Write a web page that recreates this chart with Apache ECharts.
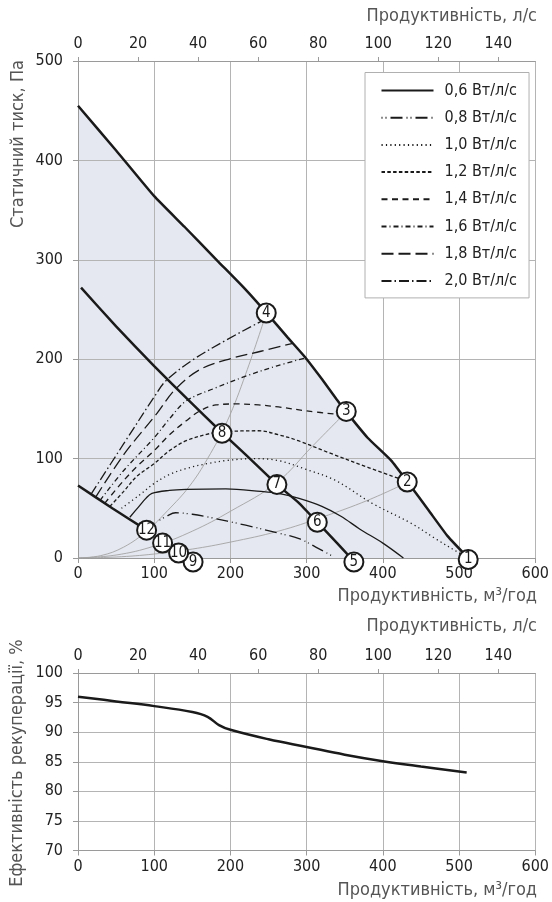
<!DOCTYPE html>
<html><head><meta charset="utf-8">
<script src="https://cdn.jsdelivr.net/npm/echarts@6/dist/echarts.min.js"></script>
<style>html,body{margin:0;padding:0;background:#fff}#c{width:552px;height:902px}</style>
</head><body><div id="c"></div>
<script>
// ---------- data ----------
const flowTicksM3 = [0, 100, 200, 300, 400, 500, 600];
const flowTicksLs = [0, 20, 40, 60, 80, 100, 120, 140];
const pressureTicks = [0, 100, 200, 300, 400, 500];
const effTicks = [70, 75, 80, 85, 90, 95, 100];

// outer (max) characteristic, bounds the shaded area
const outerCurve = [[0,455],[50,410],[100,364],[140,333],[183,299],[220,270],[248,246],[275,222],[298,202],[320,180],[339,160],[352,147],[380,121],[411,98],[432,77],[460,48],[485,22],[512,0]];
// middle thick characteristic
const middleCurve = [[4,272],[50,233],[100,193],[142,161],[189,126],[220,104],[261,74],[289,56],[314,36],[340,15],[358,0]];
// lower thick characteristic
const lowerCurve = [[0,73],[45,50],[88,29]];

// system (duct) curves, thin grey
const systemA = [[0,0],[30,2.4],[60,11],[90,27],[118,48],[146,72],[170,100],[196,138],[220,185],[247,246]];
const systemB = [[0,0],[50,3],[100,12],[150,27],[200,47],[261,76],[307,112],[352,147]];
const systemC = [[0,0],[50,1],[100,4],[150,9],[200,16],[263,27],[320,41],[380,58],[432,76]];

// SFP curves
const sfpNames = ['0,6 Вт/л/с','0,8 Вт/л/с','1,0 Вт/л/с','1,2 Вт/л/с','1,4 Вт/л/с','1,6 Вт/л/с','1,8 Вт/л/с','2,0 Вт/л/с'];
const sfp06 = [[68,41],[79,51],[89,60],[97,65],[120,68],[142,69],[194,69.5],[240,67],[263,65],[290,60],[320,52],[345,42],[370,29],[400,15],[427,0]];
const sfp08 = [[107,38],[116,42],[128,45.5],[150,44],[172,41],[220,33],[263,25],[290,19.5],[312,11],[336,1]];
const sfp10 = [[57,50],[80,63],[100,75],[120,84],[142,90],[170,95],[194,98],[230,100],[263,98],[300,89],[338,78],[386,55],[437,35],[470,19],[498,6],[512,0]];
const sfp12 = [[42,52],[60,67],[77,82],[100,95],[120,108],[142,118],[172,125],[189,127],[237,128],[263,124],[289,118],[329,106],[381,91],[432,77]];
const sfp14 = [[35,55],[60,78],[80,94],[100,108],[120,124],[142,138],[160,148],[181,154],[210,155],[237,154],[263,152],[300,148],[346,144]];
const sfp16 = [[29,58],[60,88],[100,121],[120,140],[142,158],[180,171],[224,184],[260,193],[297,201]];
const sfp18 = [[23,61],[60,104],[102,144],[128,170],[161,190],[202,201],[240,208],[282,216]];
const sfp20 = [[17,64],[60,115],[100,162],[115,178],[150,199],[194,219],[235,236],[243,239]];

// numbered operating points
const pointLabels = ['1','2','3','4','5','6','7','8','9','10','11','12'];
const pointFlow   = [512,432,352,247,362,314,261,189,151,132,111,90];
const pointPress  = [-1.5,76.5,147.5,246.5,-4,36,74,125.5,-4,5,15,28];

// heat recovery efficiency
const effCurve = [[0,96],[50,95.2],[100,94.4],[150,93.4],[170,92.6],[185,91.2],[200,90.4],[250,88.8],[300,87.5],[350,86.2],[400,85.1],[450,84.2],[510,83.2]];

// ---------- styling ----------
const FONT = "'Liberation Sans Narrow','DejaVu Sans Condensed','Roboto',sans-serif";
const GRID = '#b4b4b4', AX = '#9a9a9a', TXT = '#222', NAME = '#555', INK = '#1a1a1a';
const dashes = ['solid',[1,3,1,4,12,4],[1.2,3.2],[3.5,2.3],[6,4.5],[5,3,1,3],[12,5],[10,3,1.5,3]];
const sfpData = [sfp06,sfp08,sfp10,sfp12,sfp14,sfp16,sfp18,sfp20];

function xM3(grid){
  return {type:'value', gridIndex:grid, position:'bottom', min:0, max:600, interval:100,
    axisLine:{show:true, lineStyle:{color:AX}}, axisTick:{show:true, length:5, lineStyle:{color:AX}},
    axisLabel:{color:TXT, fontFamily:FONT, fontSize:16, margin:8},
    splitLine:{show:true, lineStyle:{color:GRID, width:1}}};
}
function xLs(grid){
  return {type:'value', gridIndex:grid, position:'top', min:0, max:152.3, interval:20,
    axisLine:{show:true, lineStyle:{color:AX}}, axisTick:{show:true, length:4, lineStyle:{color:AX}},
    axisLabel:{color:TXT, fontFamily:FONT, fontSize:16, margin:9, showMaxLabel:false,
      formatter: v => (flowTicksLs.indexOf(v) >= 0 ? String(v) : '')},
    splitLine:{show:false}};
}

const series = [];
// shaded area under the outer curve (below grid lines)
series.push({type:'line', xAxisIndex:0, yAxisIndex:0, data:outerCurve, smooth:0.15, symbol:'none',
  lineStyle:{width:0}, areaStyle:{color:'#e5e8f0', opacity:1}, z:-1, silent:true});
// system curves
[systemA, systemB, systemC].forEach(d => series.push({type:'line', xAxisIndex:0, yAxisIndex:0, data:d,
  smooth:0.4, symbol:'none', lineStyle:{color:'#a3a3a3', width:0.9}, z:2, silent:true}));
// SFP curves
sfpData.forEach((d,i) => series.push({name:sfpNames[i], type:'line', xAxisIndex:0, yAxisIndex:0, data:d,
  smooth:0.35, symbol:'none', color:INK, itemStyle:{color:INK},
  lineStyle:{color:INK, width:1.3, type:dashes[i]}, z:3}));
// thick characteristics
[outerCurve, middleCurve, lowerCurve].forEach(d => series.push({type:'line', xAxisIndex:0, yAxisIndex:0, data:d,
  smooth:0.15, symbol:'none', lineStyle:{color:INK, width:2.5}, z:5, silent:true}));
// numbered points
series.push({type:'scatter', xAxisIndex:0, yAxisIndex:0, clip:false, z:10, symbol:'circle', symbolSize:19,
  data: pointLabels.map((n,i) => ({name:n, value:[pointFlow[i], pointPress[i]]})),
  itemStyle:{color:'#fff', borderColor:INK, borderWidth:2, opacity:1},
  label:{show:true, position:'inside', formatter:'{b}', color:INK, fontFamily:FONT, fontSize:15}});
// efficiency
series.push({type:'line', xAxisIndex:2, yAxisIndex:1, data:effCurve, smooth:0.4, symbol:'none',
  lineStyle:{color:INK, width:2.5}, z:5});

const nameStyle = {fontFamily:FONT, fontSize:18, fill:NAME};
const option = {
  animation:false,
  backgroundColor:'#fff',
  grid:[{left:78, top:61, width:459.5, height:497}, {left:78, top:673, width:459.5, height:177.5}],
  xAxis:[xM3(0), xLs(0), xM3(1), xLs(1)],
  yAxis:[
    {type:'value', gridIndex:0, min:0, max:500, interval:100,
      axisLine:{show:true, lineStyle:{color:AX}}, axisTick:{show:true, length:5, lineStyle:{color:AX}},
      axisLabel:{color:TXT, fontFamily:FONT, fontSize:16, margin:15},
      splitLine:{show:true, lineStyle:{color:GRID}}},
    {type:'value', gridIndex:1, min:70, max:100, interval:5,
      axisLine:{show:true, lineStyle:{color:AX}}, axisTick:{show:true, length:5, lineStyle:{color:AX}},
      axisLabel:{color:TXT, fontFamily:FONT, fontSize:16, margin:15},
      splitLine:{show:true, lineStyle:{color:GRID}}}
  ],
  legend:{data:sfpNames, orient:'vertical', left:365, top:72.5, itemWidth:52, itemHeight:18, itemGap:9.2,
    padding:[9,12,8,15.5], backgroundColor:'#fff', borderColor:'#b0b0b0', borderWidth:1,
    itemStyle:{opacity:0, borderWidth:0},
    textStyle:{color:TXT, fontFamily:FONT, fontSize:16, lineHeight:18, padding:[0,0,0,6]}, selectedMode:false},
  graphic:[
    {type:'text', right:15, top:7, style:Object.assign({text:'Продуктивність, л/с'}, nameStyle)},
    {type:'text', right:15, top:587, style:Object.assign({text:'Продуктивність, м³/год'}, nameStyle)},
    {type:'text', right:15, top:617, style:Object.assign({text:'Продуктивність, л/с'}, nameStyle)},
    {type:'text', right:15, top:881, style:Object.assign({text:'Продуктивність, м³/год'}, nameStyle)},
    {type:'text', x:18, y:60, rotation:Math.PI/2, style:Object.assign({text:'Статичний тиск, Па', align:'right', verticalAlign:'middle', textAlign:'right', textVerticalAlign:'middle'}, nameStyle)},
    {type:'text', x:17, y:763, rotation:Math.PI/2, style:Object.assign({text:'Ефективність рекуперації, %', align:'center', verticalAlign:'middle', textAlign:'center', textVerticalAlign:'middle'}, nameStyle)}
  ],
  series: series
};
const chart = echarts.init(document.getElementById('c'));
chart.setOption(option);
</script>
</body></html>
